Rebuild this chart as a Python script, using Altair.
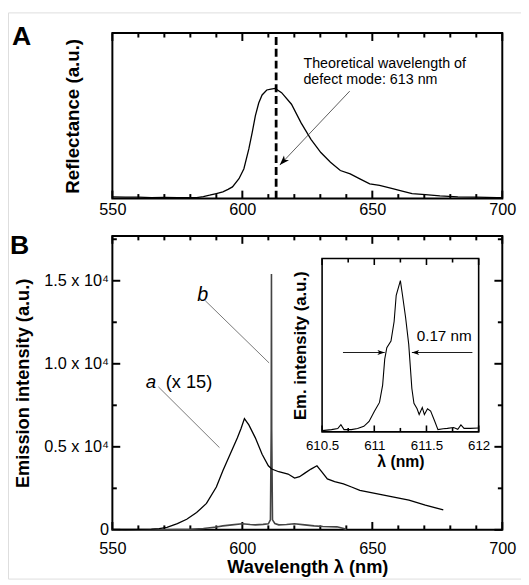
import altair as alt
import pandas as pd

FONT = "Liberation Sans"
W, H = 521, 575

# ---------------- data ----------------
lam_A = [550, 555, 560, 565, 570, 575, 580, 582.4, 585, 587.4,
         590, 592.5, 594.5, 596.2, 598.7, 600.6, 602.5, 603.8, 605.0, 606.3,
         607.6, 609.4, 611, 612.6, 615.1, 618.9, 622.6, 626.4, 630.2, 633.9,
         637.7, 641.5, 645.2, 649.0, 652.8, 657.8, 661.5, 665.3, 670.4, 676,
         682.9, 690, 698, 700]
refl_A = [0.010, 0.008, 0.009, 0.006, 0.007, 0.006, 0.006, 0.006, 0.012, 0.02,
          0.03, 0.04, 0.055, 0.07, 0.12, 0.18, 0.30, 0.40, 0.50, 0.577,
          0.626, 0.656, 0.662, 0.666, 0.64, 0.57, 0.457, 0.358, 0.278, 0.219,
          0.169, 0.149, 0.119, 0.089, 0.08, 0.06, 0.045, 0.03, 0.024, 0.016,
          0.01, 0.008, 0.005, 0.005]
defect_lambda = [613]

lam_a = [550, 555, 560, 565, 568, 571, 575, 578.6, 582.4, 586.2,
         590, 592.5, 595, 598.1, 599.5, 600.8, 602.5, 605, 607.6, 610,
         611.3, 614, 617.6, 620.1, 622, 623.9, 626.4, 628.7, 630.5, 632.7,
         635.5, 638.9, 642, 645.2, 651.5, 657.8, 664.1, 670.4, 677.3]
em_a = [30, 20, 30, 40, 80, 150, 370, 640, 1040, 1590,
        2580, 3560, 4450, 5540, 6100, 6700, 6320, 5540, 4550, 3860,
        3660, 3500, 3360, 3120, 3200, 3400, 3660, 3860, 3500, 3070,
        2900, 2770, 2580, 2380, 2180, 1980, 1790, 1490, 1200]

lam_b = [550, 560, 570, 580, 585, 590, 592.5, 596, 600, 603,
         605, 608, 610, 610.8, 611.1, 611.2, 611.3, 611.6, 612.5, 614,
         617, 620, 624, 627.6, 631, 636.4, 639, 640]
em_b = [0, 0, 10, 40, 80, 170, 240, 300, 367, 320,
        300, 330, 367, 600, 6000, 15400, 6000, 600, 380, 300,
        320, 367, 300, 240, 200, 180, 80, 20]

lam_in = [610.5, 610.59, 610.65, 610.68, 610.71, 610.78, 610.84, 610.90, 610.95, 611.0,
          611.05, 611.08, 611.10, 611.12, 611.16, 611.19, 611.21, 611.25, 611.27, 611.30,
          611.33, 611.36, 611.38, 611.41, 611.43, 611.46, 611.48, 611.51, 611.54, 611.58,
          611.61, 611.66, 611.70, 611.76, 611.80, 611.83, 611.86, 611.92, 612.0]
em_in = [0.007, 0.013, 0.019, 0.041, 0.013, 0.013, 0.019, 0.032, 0.06, 0.117,
         0.17, 0.27, 0.42, 0.486, 0.524, 0.637, 0.788, 0.873, 0.79, 0.66,
         0.505, 0.25, 0.165, 0.133, 0.10, 0.14, 0.10, 0.133, 0.12, 0.06,
         0.013, 0.018, 0.02, 0.025, 0.015, 0.04, 0.02, 0.02, 0.022]

# tick values
xA_major = [550, 600, 650, 700]
xA_minor = [560, 570, 580, 590, 610, 620, 630, 640, 660, 670, 680, 690]
yB_major = [0, 5000, 10000, 15000]
yB_minor = [2500, 7500, 12500, 17500]
xI_major = [610.5, 611, 611.5, 612]
xI_minor = [610.75, 611.25, 611.75]

# annotations
textA = ["Theoretical wavelength of", "defect mode: 613 nm"]
textA_x = [623.5, 623.5]
textA_y = [0.81, 0.715]
arrowA = dict(x=[641.3], y=[0.649], x2=[614.4], y2=[0.202])
lead_b = dict(x=[585.7], y=[13805], x2=[610.3], y2=[10051])
lead_a = dict(x=[567.7], y=[8610], x2=[591.2], y2=[4952])
inset_arrow_L = dict(x=[610.70], y=[0.458], x2=[611.10], y2=[0.458])
inset_arrow_R = dict(x=[611.94], y=[0.458], x2=[611.36], y2=[0.458])

# ---------------- scales ----------------
DOM_XA, RNG_XA = [550, 700], [106, 502]
DOM_YA, RNG_YA = [0, 1], [189, 21]
DOM_YB, RNG_YB = [0, 17700], [525.5, 227]
DOM_XI, RNG_XI = [610.5, 612], [319, 478]
DOM_YI, RNG_YI = [0, 1], [426, 250]

xA = alt.Scale(domain=DOM_XA, range=RNG_XA, nice=False, zero=False)
yA = alt.Scale(domain=DOM_YA, range=RNG_YA, nice=False, zero=False)
xB = alt.Scale(domain=DOM_XA, range=RNG_XA, nice=False, zero=False)
yB = alt.Scale(domain=DOM_YB, range=RNG_YB, nice=False, zero=False)
xI = alt.Scale(domain=DOM_XI, range=RNG_XI, nice=False, zero=False)
yI = alt.Scale(domain=DOM_YI, range=RNG_YI, nice=False, zero=False)


def per_px(dom, rng):
    return abs(dom[1] - dom[0]) / abs(rng[1] - rng[0])


BASE_AX = dict(grid=False, domain=False, ticks=False, tickSize=0,
               labelColor="black", titleColor="black", labelFont=FONT,
               titleFont=FONT, labelFlush=False, labelOverlap=False)

ARROW = "M0,0L0.35,1L0,0.75L-0.35,1Z"


def carrier(xd, yd, xs, ys, ch, **kw):
    opts = dict(BASE_AX)
    opts.update(kw)
    ax = alt.Axis(**opts)
    df = pd.DataFrame({"x": xd, "y": yd})
    if ch == "x":
        enc = dict(x=alt.X("x:Q", scale=xs, axis=ax), y=alt.Y("y:Q", scale=ys, axis=None))
    else:
        enc = dict(x=alt.X("x:Q", scale=xs, axis=None), y=alt.Y("y:Q", scale=ys, axis=ax))
    return alt.Chart(df).mark_point(opacity=0).encode(**enc)


def title_axis(xd, yd, xs, ys, ch, orient, text, size, offset, pad):
    return carrier(xd, yd, xs, ys, ch, orient=orient, labels=False,
                   title=text, titleFontSize=size, titleFontWeight="bold",
                   titlePadding=pad, offset=offset)


def ticks(values, edge, xs, ys, side, length, unit, width=2):
    """Inward tick marks along one frame edge; length in px converted by data-per-px unit."""
    d = length * unit
    if side == "bottom":
        df = pd.DataFrame({"x": values, "x2": values, "y": [edge] * len(values),
                           "y2": [edge + d] * len(values)})
    elif side == "top":
        df = pd.DataFrame({"x": values, "x2": values, "y": [edge] * len(values),
                           "y2": [edge - d] * len(values)})
    elif side == "left":
        df = pd.DataFrame({"x": [edge] * len(values), "x2": [edge + d] * len(values),
                           "y": values, "y2": values})
    else:
        df = pd.DataFrame({"x": [edge] * len(values), "x2": [edge - d] * len(values),
                           "y": values, "y2": values})
    return alt.Chart(df).mark_rule(color="black", strokeWidth=width).encode(
        x=alt.X("x:Q", scale=xs, axis=None), y=alt.Y("y:Q", scale=ys, axis=None),
        x2="x2:Q", y2="y2:Q")


def frame(xd, yd, xs, ys, sw):
    df = pd.DataFrame({"x": [xd[0]], "x2": [xd[1]], "y": [yd[0]], "y2": [yd[1]]})
    return alt.Chart(df).mark_rect(fillOpacity=0, stroke="black", strokeWidth=sw).encode(
        x=alt.X("x:Q", scale=xs, axis=None), x2="x2:Q",
        y=alt.Y("y:Q", scale=ys, axis=None), y2="y2:Q")


def line(xv, yv, xs, ys, color="black", sw=1.3):
    df = pd.DataFrame({"lam": xv, "v": yv})
    return alt.Chart(df).mark_line(color=color, strokeWidth=sw).encode(
        x=alt.X("lam:Q", scale=xs, axis=None), y=alt.Y("v:Q", scale=ys, axis=None))


def rule(d, xs, ys, color="black", sw=0.8, dash=None):
    df = pd.DataFrame(d)
    kw = dict(color=color, strokeWidth=sw)
    if dash:
        kw["strokeDash"] = dash
    return alt.Chart(df).mark_rule(**kw).encode(
        x=alt.X("x:Q", scale=xs, axis=None), y=alt.Y("y:Q", scale=ys, axis=None),
        x2="x2:Q", y2="y2:Q")


def head(x, y, xs, ys, angle, size):
    df = pd.DataFrame({"x": [x], "y": [y]})
    return alt.Chart(df).mark_point(shape=ARROW, filled=True, color="black", opacity=1,
                                    size=size, angle=angle, strokeWidth=0).encode(
        x=alt.X("x:Q", scale=xs, axis=None), y=alt.Y("y:Q", scale=ys, axis=None))


def text(xv, yv, tv, xs, ys, **kw):
    df = pd.DataFrame({"x": xv, "y": yv, "t": tv})
    return alt.Chart(df).mark_text(font=FONT, color="black", **kw).encode(
        x=alt.X("x:Q", scale=xs, axis=None), y=alt.Y("y:Q", scale=ys, axis=None),
        text="t:N")


uxA, uyA = per_px(DOM_XA, RNG_XA), per_px(DOM_YA, RNG_YA)
uyB = per_px(DOM_YB, RNG_YB)
uxI, uyI = per_px(DOM_XI, RNG_XI), per_px(DOM_YI, RNG_YI)

# ---------------- Panel A ----------------
fxA, fyA = DOM_XA, DOM_YA
panelA = alt.layer(
    frame(fxA, fyA, xA, yA, 2),
    ticks(xA_major, 0, xA, yA, "bottom", 8, uyA),
    ticks(xA_minor, 0, xA, yA, "bottom", 4.5, uyA),
    ticks(xA_major, 1, xA, yA, "top", 8, uyA),
    ticks(xA_minor, 1, xA, yA, "top", 4.5, uyA),
    line(lam_A, refl_A, xA, yA),
    rule(dict(x=defect_lambda, y=[0], x2=defect_lambda, y2=[1]), xA, yA, sw=2.8, dash=[8, 4]),
    rule(arrowA, xA, yA, color="#333", sw=0.8),
    head(arrowA["x2"][0], arrowA["y2"][0], xA, yA, 223, 400),
    text(textA_x, textA_y, textA, xA, yA, align="left", baseline="middle", fontSize=14.5),
    text([511.4], [0.976], ["A"], xA, yA, align="left", fontSize=27, fontWeight="bold"),
    carrier(fxA, fyA, xA, yA, "x", orient="bottom", values=xA_major,
            offset=-(H - 189), labelPadding=3, labelFontSize=16.5, format="d", title=None),
    title_axis(fxA, fyA, xA, yA, "y", "left", "Reflectance (a.u.)", 19, -106, 30),
).resolve_axis(x="independent", y="independent")

# ---------------- Panel B ----------------
fxB, fyB = DOM_XA, DOM_YB
panelB = alt.layer(
    frame(fxB, fyB, xB, yB, 2),
    ticks(xA_major, 0, xB, yB, "bottom", 8, uyB),
    ticks(xA_minor, 0, xB, yB, "bottom", 4.5, uyB),
    ticks(xA_major, 17700, xB, yB, "top", 8, uyB),
    ticks(xA_minor, 17700, xB, yB, "top", 4.5, uyB),
    ticks(yB_major, 550, xB, yB, "left", 8, uxA),
    ticks(yB_minor, 550, xB, yB, "left", 4.5, uxA),
    ticks(yB_major, 700, xB, yB, "right", 8, uxA),
    ticks(yB_minor, 700, xB, yB, "right", 4.5, uxA),
    line(lam_b, em_b, xB, yB, color="#444", sw=1.6),
    line(lam_a, em_a, xB, yB),
    rule(lead_b, xB, yB, color="#555", sw=0.8),
    rule(lead_a, xB, yB, color="#555", sw=0.8),
    text([584.8], [14143], ["b"], xB, yB, align="center", fontSize=20, fontStyle="italic"),
    text([564.8], [8925], ["a"], xB, yB, align="center", fontSize=19, fontStyle="italic"),
    text([570.5], [8925], ["(x 15)"], xB, yB, align="left", fontSize=18.5),
    text([510.6], [17110], ["B"], xB, yB, align="left", fontSize=27, fontWeight="bold"),
    carrier(fxB, fyB, xB, yB, "x", orient="bottom", values=xA_major,
            offset=-(H - 525.5), labelPadding=11, labelFontSize=16.5, format="d", title=None),
    carrier(fxB, fyB, xB, yB, "y", orient="left", values=yB_major,
            offset=-106, labelPadding=4, labelFontSize=16.5, title=None,
            labelExpr="datum.value == 0 ? '0' : format(datum.value / 10000, '.1f') + ' x 10\u2074'"),
    title_axis(fxB, fyB, xB, yB, "x", "bottom", "Wavelength \u03bb (nm)", 18.5,
               -(H - 525.5), 28),
    title_axis(fxB, fyB, xB, yB, "y", "left", "Emission intensity (a.u.)", 18.5, -106, 81),
).resolve_axis(x="independent", y="independent")

# ---------------- Inset ----------------
fxI, fyI = DOM_XI, DOM_YI
inset = alt.layer(
    frame(fxI, fyI, xI, yI, 1.6),
    ticks(xI_major, 0, xI, yI, "bottom", 6.5, uyI, 1.6),
    ticks(xI_minor, 0, xI, yI, "bottom", 4, uyI, 1.6),
    ticks(xI_major, 1, xI, yI, "top", 6.5, uyI, 1.6),
    ticks(xI_minor, 1, xI, yI, "top", 4, uyI, 1.6),
    line(lam_in, em_in, xI, yI, sw=1.1),
    rule(inset_arrow_L, xI, yI, sw=0.9),
    rule(inset_arrow_R, xI, yI, sw=0.9),
    head(inset_arrow_L["x2"][0], 0.458, xI, yI, 90, 220),
    head(inset_arrow_R["x2"][0], 0.458, xI, yI, 270, 220),
    text([611.406], [0.552], ["0.17 nm"], xI, yI, align="left", baseline="middle", fontSize=15.5),
    carrier(fxI, fyI, xI, yI, "x", orient="bottom", values=xI_major,
            offset=-(H - 426), labelPadding=6.5, labelFontSize=13.5, format="~f", title=None),
    title_axis(fxI, fyI, xI, yI, "x", "bottom", "\u03bb (nm)", 16, -(H - 426), 22),
    title_axis(fxI, fyI, xI, yI, "y", "left", "Em. intensity (a.u.)", 17, -319, 13),
).resolve_axis(x="independent", y="independent")

chart = alt.layer(panelA, panelB, inset).resolve_scale(
    x="independent", y="independent"
).resolve_axis(
    x="independent", y="independent"
).properties(
    width=W, height=H, padding=0, autosize=alt.AutoSizeParams(type="none")
).configure_view(stroke=None).configure(font=FONT, background="white")

chart.save("out.html", embed_options={"renderer": "svg", "actions": False})
